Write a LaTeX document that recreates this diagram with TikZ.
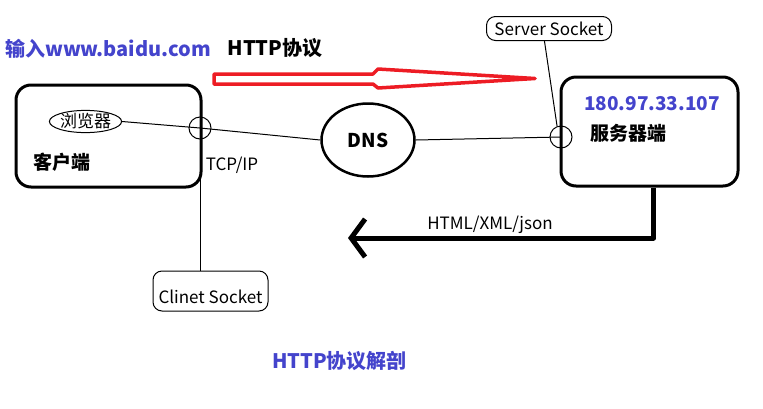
\documentclass[tikz,border=0pt]{standalone}
\usepackage{fontspec}
\setmainfont{Noto Sans CJK SC}
\usetikzlibrary{arrows.meta,shapes.geometric}
\definecolor{ipblue}{RGB}{68,68,204}
\definecolor{arrowred}{RGB}{237,28,36}

\begin{document}
\begin{tikzpicture}
  [x=1pt,y=-1pt,line width=1pt,every node/.style={inner sep=0pt},
   host/.style={draw,line width=3pt,rounded corners=15pt},
   sock/.style={draw,circle,minimum size=22pt},
   tag/.style={draw,rounded corners=9pt,font=\fontsize{17}{17}\selectfont},
   label/.style={font=\fontsize{17}{17}\selectfont},
   title/.style={font=\fontsize{20}{20}\selectfont\bfseries}]
  \useasboundingbox (0,0) rectangle (763,408);

  \node[title,ipblue] (input) at (108,49) {输入www.baidu.com};
  \node[title] (http) at (275,48) {HTTP协议};
  \node[title,ipblue] (caption) at (339.5,361) {HTTP协议解剖};

  \node[host,minimum width=185pt,minimum height=102pt] (client) at (108.5,136) {};
  \node[host,minimum width=177pt,minimum height=109pt] (server) at (649.5,131.5) {};
  \node[draw,ellipse,minimum width=67pt,minimum height=20pt,label] (browser) at (85.5,121.5) {浏览器};
  \node[title,font=\fontsize{19}{19}\selectfont\bfseries] (clientname) at (62,162) {客户端};
  \node[title,ipblue,font=\fontsize{19}{19}\selectfont\bfseries] (ip) at (652,104) {180.97.33.107};
  \node[title,font=\fontsize{19}{19}\selectfont\bfseries] (servername) at (628,133) {服务器端};
  \node[draw,ellipse,line width=2.5pt,minimum width=93pt,minimum height=73pt,
        font=\fontsize{19}{19}\selectfont\bfseries] (dns) at (368,140) {DNS};

  \node[sock] (csock) at (200,128) {};
  \node[sock] (ssock) at (561,137) {};
  \node[tag,minimum width=125pt,minimum height=24pt] (servertag) at (549,28.5) {Server Socket};
  \node[tag,minimum width=115pt,inner ysep=3pt,text height=29pt,text depth=5pt] (clienttag) at (210.5,291) {Clinet Socket};
  \node[label] (tcp) at (232,165) {TCP/IP};
  \node[label] (data) at (490,225) {HTML/XML/json};
  \coordinate (back) at (348,238);

  \foreach \from/\to in {browser.east/csock.center,csock.center/dns.west,dns.east/ssock.center,servertag.250/ssock.110}
    \draw (\from) -- (\to);
  \draw (csock.south) -- (csock.south |- clienttag.north);

  \draw[line width=5pt,line join=round,-{Straight Barb[length=14pt,width=38pt]}]
    ([xshift=4pt]server.south) |- (back);

  \draw[arrowred,line width=3.5pt,line join=round]
    (214,74) -- (373,74) -- (378,69) -- (535,78.5) -- (378,88) -- (373,84) -- (214,84) -- cycle;
\end{tikzpicture}
\end{document}
